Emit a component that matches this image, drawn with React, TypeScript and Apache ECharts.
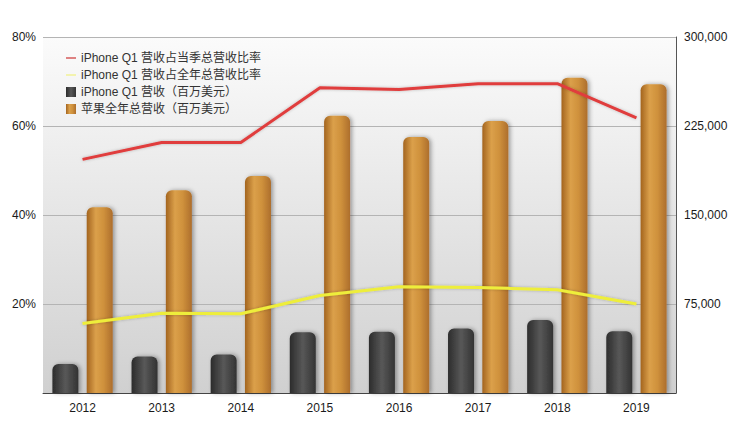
import React, { useEffect, useRef } from "react";
import * as echarts from "echarts";

const years = ["2012", "2013", "2014", "2015", "2016", "2017", "2018", "2019"];
// iPhone Q1 营收占当季总营收比率
const shareOfQuarter = [0.525, 0.563, 0.563, 0.686, 0.682, 0.695, 0.695, 0.618];
// iPhone Q1 营收占全年总营收比率
const shareOfYear = [0.156, 0.179, 0.178, 0.219, 0.239, 0.237, 0.232, 0.2];
// iPhone Q1 营收（百万美元）
const iphoneQ1Revenue = [24417, 30660, 32498, 51182, 51635, 54378, 61576, 51982];
// 苹果全年总营收（百万美元）
const appleRevenue = [156508, 170910, 182795, 233715, 215639, 229234, 265595, 260174];

const FONT = "'Liberation Sans', Arial, 'Noto Sans CJK SC', sans-serif";
const LINE_ICON = "path://M0,4 L12,4 L12,6 L0,6 Z";

const gold = new echarts.graphic.LinearGradient(0, 0, 1, 0, [
	{ offset: 0, color: "#a3641f" },
	{ offset: 0.35, color: "#dba04a" },
	{ offset: 0.65, color: "#cf913c" },
	{ offset: 1, color: "#ad6e2c" },
]);
const dark = new echarts.graphic.LinearGradient(0, 0, 1, 0, [
	{ offset: 0, color: "#2c2c2c" },
	{ offset: 0.5, color: "#585858" },
	{ offset: 1, color: "#333333" },
]);

export default function App() {
	const chartRef = useRef<HTMLDivElement>(null);

	useEffect(() => {
		if (!chartRef.current) return;
		const chart = echarts.init(chartRef.current, null, { renderer: "svg" });

		chart.setOption({
			animation: false,
			backgroundColor: "#ffffff",
			textStyle: { fontFamily: FONT },
			grid: {
				left: 43,
				right: 63,
				top: 37,
				bottom: 30,
				show: true,
				borderWidth: 0,
				backgroundColor: new echarts.graphic.LinearGradient(0, 0, 0, 1, [
					{ offset: 0, color: "#fbfbfb" },
					{ offset: 1, color: "#d0d0d0" },
				]),
			},
			legend: {
				orient: "vertical",
				left: 61,
				top: 47,
				itemWidth: 10,
				itemHeight: 10,
				itemGap: 5,
				textStyle: { fontSize: 12, color: "#333", fontFamily: FONT },
				data: [
					{ name: "iPhone Q1 营收占当季总营收比率", icon: LINE_ICON, itemStyle: { color: "#d96a6a" } },
					{ name: "iPhone Q1 营收占全年总营收比率", icon: LINE_ICON, itemStyle: { color: "#f2f2a0" } },
					{ name: "iPhone Q1 营收（百万美元）", icon: "rect" },
					{ name: "苹果全年总营收（百万美元）", icon: "rect" },
				],
			},
			xAxis: {
				type: "category",
				data: years,
				axisLine: { lineStyle: { color: "#444", width: 1 } },
				axisTick: { show: false },
				axisLabel: { color: "#1a1a1a", fontSize: 12, margin: 9 },
			},
			yAxis: [
				{
					type: "value",
					min: 0,
					max: 0.8,
					interval: 0.2,
					axisLine: { show: false },
					axisTick: { show: false },
					splitLine: { lineStyle: { color: "#b4b4b4", width: 1 } },
					axisLabel: {
						showMinLabel: false,
						color: "#1a1a1a",
						fontSize: 12,
						margin: 7,
						formatter: (v: number) => Math.round(v * 100) + "%",
					},
				},
				{
					type: "value",
					min: 0,
					max: 300000,
					interval: 75000,
					position: "right",
					axisLine: { show: true, lineStyle: { color: "#555", width: 1 } },
					axisTick: { show: false },
					splitLine: { show: false },
					axisLabel: {
						showMinLabel: false,
						color: "#1a1a1a",
						fontSize: 12,
						margin: 8,
						formatter: (v: number) => v.toLocaleString("en-US"),
					},
				},
			],
			series: [
				{
					name: "iPhone Q1 营收（百万美元）",
					type: "bar",
					yAxisIndex: 1,
					barWidth: 26,
					barGap: "32%",
					data: iphoneQ1Revenue,
					itemStyle: {
						color: dark,
						borderRadius: [6, 6, 0, 0],
						shadowBlur: 4,
						shadowOffsetX: 2,
						shadowColor: "rgba(0,0,0,0.35)",
					},
				},
				{
					name: "苹果全年总营收（百万美元）",
					type: "bar",
					yAxisIndex: 1,
					barWidth: 26,
					data: appleRevenue,
					itemStyle: {
						color: gold,
						borderRadius: [6, 6, 0, 0],
						shadowBlur: 4,
						shadowOffsetX: 2,
						shadowColor: "rgba(0,0,0,0.35)",
					},
				},
				{
					name: "iPhone Q1 营收占当季总营收比率",
					type: "line",
					yAxisIndex: 0,
					data: shareOfQuarter,
					symbol: "none",
					z: 5,
					lineStyle: { color: "#e03c3c", width: 3, shadowBlur: 3, shadowColor: "rgba(0,0,0,0.25)" },
					itemStyle: { color: "#d96a6a" },
				},
				{
					name: "iPhone Q1 营收占全年总营收比率",
					type: "line",
					yAxisIndex: 0,
					data: shareOfYear,
					symbol: "none",
					z: 5,
					lineStyle: { color: "#eeee3a", width: 3, shadowBlur: 3, shadowColor: "rgba(0,0,0,0.25)" },
					itemStyle: { color: "#f2f2a0" },
				},
			],
		});

		const handleResize = () => chart.resize();
		window.addEventListener("resize", handleResize);
		return () => {
			window.removeEventListener("resize", handleResize);
			chart.dispose();
		};
	}, []);

	return (
		<div
			ref={chartRef}
			style={{ position: "fixed", left: 0, top: 0, width: 739, height: 423 }}
		/>
	);
}
